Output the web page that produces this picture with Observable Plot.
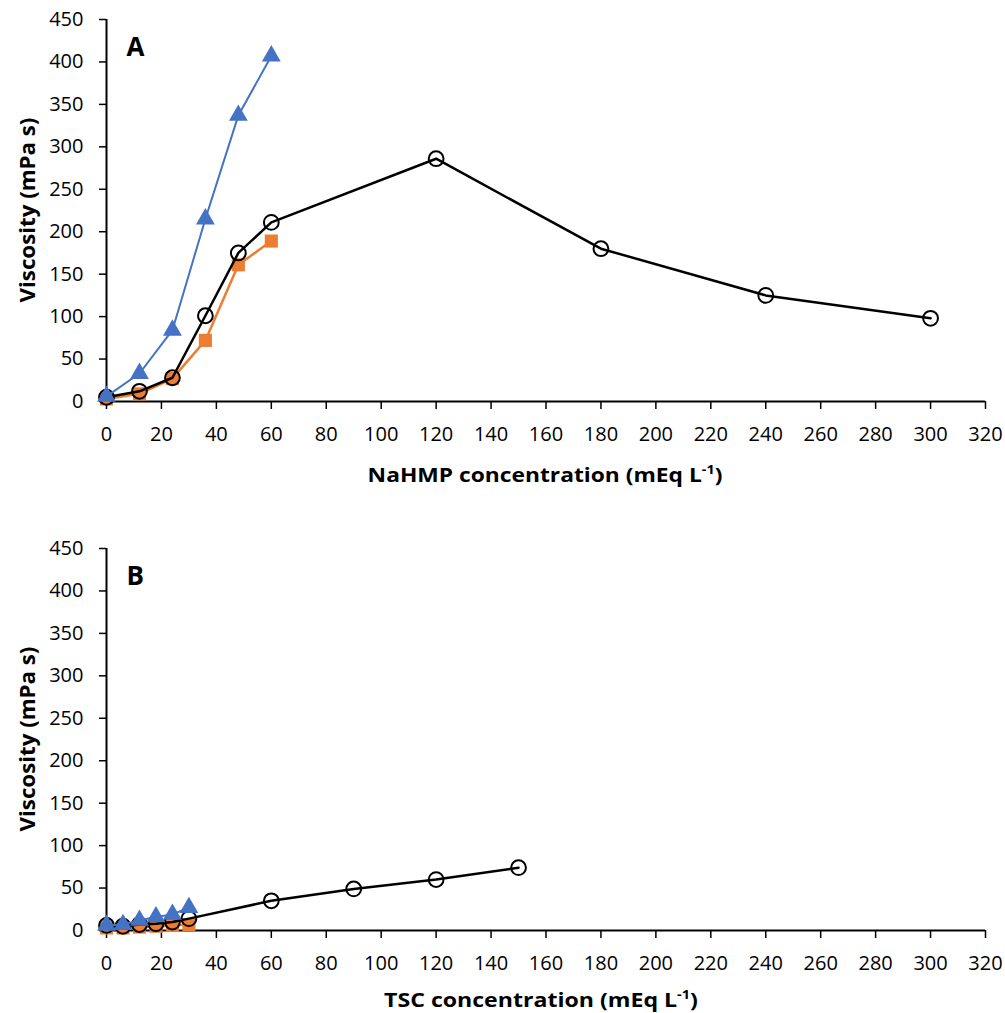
<!DOCTYPE html>
<html><head><meta charset="utf-8">
<script src="https://cdn.jsdelivr.net/npm/d3@7"></script>
<script src="https://cdn.jsdelivr.net/npm/@observablehq/plot@0.6"></script>
<style>
body{margin:0;background:#fff;}
#c{width:1005px;}
svg{display:block;}
</style></head><body><div id="c"></div>
<script>
const xTicks = d3.range(0, 321, 20);
const yTicks = d3.range(0, 451, 50);

// Panel A: NaHMP
const aConcBlack = [0, 12, 24, 36, 48, 60, 120, 180, 240, 300];
const aBlack = [5, 12, 28, 101, 175, 211, 286, 180, 125, 98];
const aConcOrange = [0, 12, 24, 36, 48, 60];
const aOrange = [3, 9, 27, 72, 161, 189];
const aConcBlue = [0, 12, 24, 36, 48, 60];
const aBlue = [6, 33, 84, 215, 337, 407];

// Panel B: TSC
const bConcBlack = [0, 6, 12, 18, 24, 30, 60, 90, 120, 150];
const bBlack = [6, 5, 7, 8, 10, 14, 35, 49, 60, 74];
const bConcOrange = [0, 6, 12, 18, 24, 30];
const bOrange = [3, 3, 4, 5, 6, 7];
const bConcBlue = [0, 6, 12, 18, 24, 30];
const bBlue = [6, 7, 12, 16, 19, 27];

const BLUE = "#4472C4", ORANGE = "#ED7D31";
const FONT = "'Open Sans', 'Liberation Sans', sans-serif";

function rows(xs, ys){ return xs.map((x,i)=>({x, y: ys[i]})); }

const fits = [];

function panel(cfg){
  const black = rows(cfg.bx, cfg.by), orange = rows(cfg.ox, cfg.oy), blue = rows(cfg.ux, cfg.uy);
  const chart = Plot.plot({
    width: 1005, height: cfg.height,
    marginLeft: 106, marginRight: 20, marginTop: cfg.mt, marginBottom: cfg.mb,
    style: {fontFamily: FONT, fontSize: "20px", color: "#000", background: "#fff"},
    x: {domain: [0, 320]},
    y: {domain: [0, 450]},
    marks: [
      Plot.axisX({ticks: xTicks, tickSize: 8, tickPadding: 17, label: null, stroke: "#000", strokeWidth: 1.5, fill: "#000"}),
      Plot.axisY({ticks: yTicks, tickSize: 7, tickPadding: 16, label: null, stroke: "#000", strokeWidth: 1.5, fill: "#000"}),
      Plot.ruleY([0], {stroke: "#000", strokeWidth: 2}),
      Plot.ruleX([0], {stroke: "#000", strokeWidth: 2}),
      Plot.line(orange, {x: "x", y: "y", stroke: ORANGE, strokeWidth: 2.5}),
      Plot.dot(orange, {x: "x", y: "y", symbol: "square", fill: ORANGE, r: 7.4}),
      Plot.line(black, {x: "x", y: "y", stroke: "#000", strokeWidth: 2.5}),
      Plot.dot(black, {x: "x", y: "y", r: 7.4, stroke: "#000", strokeWidth: 2, fill: "none"}),
      Plot.line(blue, {x: "x", y: "y", stroke: BLUE, strokeWidth: 2}),
      Plot.dot(blue, {x: "x", y: "y", symbol: "triangle", fill: BLUE, r: 7}),
      Plot.text([cfg.letter], {frameAnchor: "top-left", dx: 20, dy: 18, textAnchor: "start", fontWeight: "bold", fontSize: 26, fill: "#000"})
    ]
  });
  const svg = d3.select(chart);
  const top = cfg.mt, bottom = cfg.height - cfg.mb;
  const yl = svg.append("text")
    .attr("text-anchor", "middle")
    .attr("font-weight", "bold").attr("font-size", 22).attr("fill", "#000")
    .attr("font-family", FONT)
    .text("Viscosity (mPa s)");
  fits.push({el: yl, cx: 26, cy: (top+bottom)/2, len: 185, rotate: true});
  const t = svg.append("text")
    .attr("text-anchor", "middle")
    .attr("font-weight", "bold").attr("font-size", 19).attr("fill", "#000")
    .attr("font-family", FONT);
  t.append("tspan").text(cfg.xlabel + " concentration (mEq L");
  t.append("tspan").attr("font-size", 12).attr("dy", -8).text("-1");
  t.append("tspan").attr("dy", 8).text(")");
  fits.push({el: t, cx: cfg.xcx, base: bottom + cfg.xoff, len: cfg.xlen, rotate: false});
  return chart;
}

const c = document.getElementById("c");
c.appendChild(panel({height: 500, mt: 19, mb: 99, letter: "A", xlabel: "NaHMP", xcx: 545, xlen: 355, xoff: 81,
  bx: aConcBlack, by: aBlack, ox: aConcOrange, oy: aOrange, ux: aConcBlue, uy: aBlue}));
c.appendChild(panel({height: 513, mt: 48, mb: 83, letter: "B", xlabel: "TSC", xcx: 541, xlen: 314, xoff: 77,
  bx: bConcBlack, by: bBlack, ox: bConcOrange, oy: bOrange, ux: bConcBlue, uy: bBlue}));

// fit axis titles to measured extents
for (const f of fits) {
  const w = f.el.node().getBBox().width || f.len;
  const s = f.len / w;
  if (f.rotate) {
    f.el.attr("dominant-baseline", "central")
      .attr("transform", `translate(${f.cx},${f.cy}) rotate(-90) scale(${s},1)`);
  } else {
    f.el.attr("transform", `translate(${f.cx},${f.base}) scale(${s},1)`);
  }
}
</script></body></html>
